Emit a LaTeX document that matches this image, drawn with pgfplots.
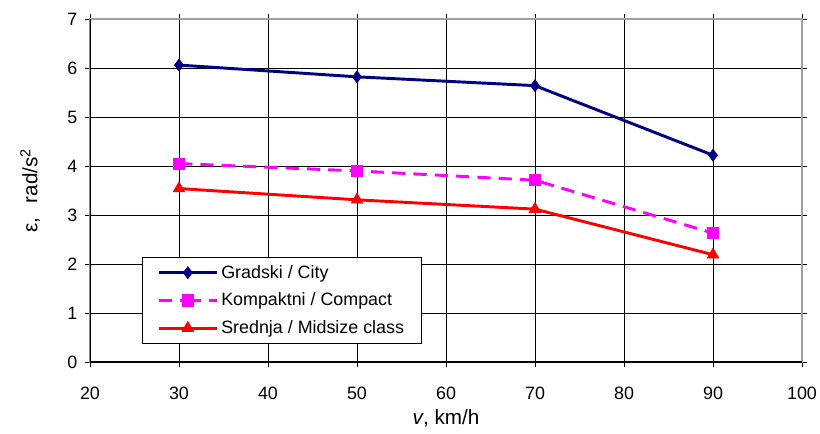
\documentclass[border=0pt]{standalone}
\usepackage{pgfplots}
\pgfplotsset{compat=1.18}
\usepackage{fontspec}
\setmainfont{Liberation Sans}
\definecolor{cityc}{RGB}{0,0,128}
\definecolor{compc}{RGB}{255,0,255}
\definecolor{midc}{RGB}{255,0,0}
\newcommand{\chfont}{\fontsize{13.4}{16}\selectfont}
\newcommand{\labfont}{\fontsize{15.5}{18}\selectfont}
\begin{document}
\begin{tikzpicture}[x=1pt,y=1pt]
\begin{axis}[
  at={(0,0)}, anchor=south west,
  scale only axis,
  width=534pt, height=257.25pt,
  xmin=20, xmax=100, ymin=0, ymax=7,
  xtick={20,30,...,100}, ytick={0,1,...,7},
  grid=major,
  major grid style={black, line width=0.6pt},
  axis line style={gray!75, line width=1.1pt},
  tick style={black, line width=0.6pt},
  tick align=outside,
  major tick length=4pt,
  tick label style={font=\chfont},
  label style={font=\labfont},
  /pgf/number format/assume math mode=true,
  xticklabel style={yshift=-11pt},
  yticklabel style={xshift=-2pt},
  xlabel={\textit{v}, km/h},
  ylabel={ε,\hspace{0.7em}rad/s\textsuperscript{2}},
  xlabel style={at={(axis description cs:0.5,-0.165)}, anchor=center},
  ylabel style={at={(axis description cs:-0.084,0.5)}, anchor=center},
  legend style={at={(0.073,0.306)}, anchor=north west, draw=black, line width=0.6pt,
    font=\chfont, inner xsep=11pt, inner ysep=3.8pt, row sep=5.6pt},
  legend cell align=left,
  legend image code/.code={\draw[#1] (0pt,0pt) -- (22pt,0pt) plot coordinates {(22pt,0pt)} -- (44pt,0pt);},
]
\addplot[color=cityc, line width=2.2pt, mark=diamond*, mark size=4.5pt, mark options={solid, line width=0.5pt}]
  coordinates {(30,6.06) (50,5.82) (70,5.64) (90,4.22)};
\addlegendentry{Gradski / City}
\addplot[color=compc, line width=2.2pt, dash pattern=on 10pt off 6pt, mark=square*, mark size=4.2pt, mark options={solid, line width=0.5pt}]
  coordinates {(30,4.05) (50,3.90) (70,3.71) (90,2.63)};
\addlegendentry{Kompaktni / Compact}
\addplot[color=midc, line width=2.2pt, mark=triangle*, mark size=5pt, mark options={solid, line width=0.5pt}]
  coordinates {(30,3.54) (50,3.31) (70,3.12) (90,2.19)};
\addlegendentry{Srednja / Midsize class}
\draw[black, line width=0.9pt] (rel axis cs:0,1) -- (rel axis cs:0,0) -- (rel axis cs:1,0);
\end{axis}
\pgfresetboundingbox
\path (-67.5pt,-53.25pt) rectangle (547.5pt,271.5pt);
\end{tikzpicture}
\end{document}
